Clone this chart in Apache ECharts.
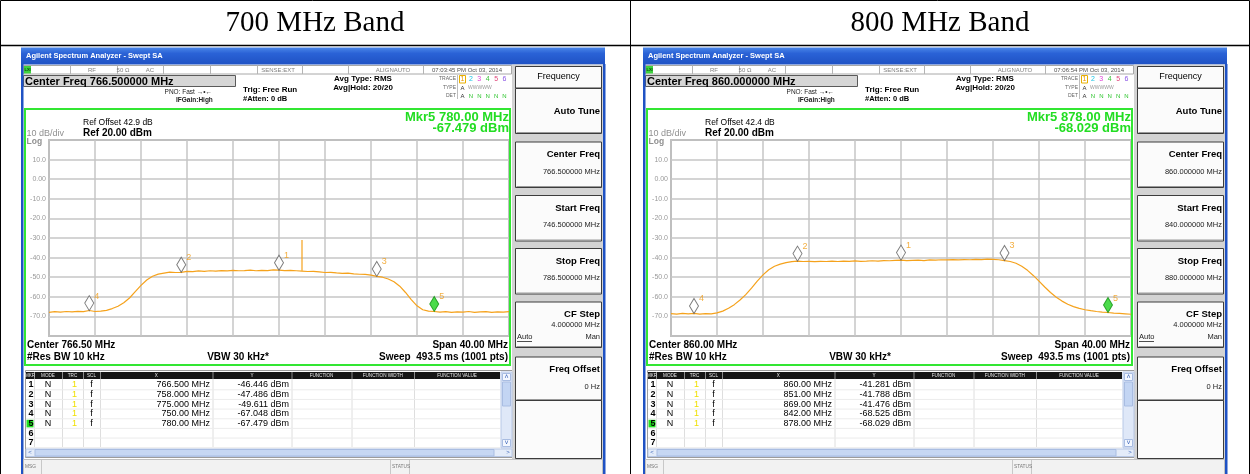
<!DOCTYPE html>
<html>
<head>
<meta charset="utf-8">
<script src="https://cdn.jsdelivr.net/npm/echarts@6/dist/echarts.min.js"></script>
<style>
  html, body { margin: 0; padding: 0; background: #ffffff; }
  #chart { width: 1250px; height: 474px; }
</style>
</head>
<body>
<div id="chart"></div>
<script>
// ---- Measurement data ----------------------------------------------------
const BAND_TITLES = ['700 MHz Band', '800 MHz Band'];
const CENTER_MHZ = [766.5, 860.0];
const START_MHZ = [746.5, 840.0];
const STOP_MHZ = [786.5, 880.0];
const SPAN_MHZ = 40;
const REF_OFFSET_DB = [42.9, 42.4];
const TIMESTAMPS = ['07:03:45 PM Oct 03, 2014', '07:06:54 PM Oct 03, 2014'];

// Trace 1 (RMS average), one reading every 0.5 MHz across the span
const TRACE_STEP_MHZ = 0.5;
const TRACE_700_DBM = [
  -67.9, -67.6, -67.8, -67.5, -67.7, -67.4, -67.6, -67.0, -67.5, -67.3,
  -66.9, -66.0, -64.8, -63.0, -60.6, -57.4, -54.2, -51.4, -49.5, -48.4,
  -47.9, -47.4, -47.6, -47.5, -47.0, -47.2, -46.8, -47.0, -46.7, -46.9,
  -46.6, -46.8, -46.5, -46.7, -46.6, -46.4, -46.7, -46.5, -46.6, -46.3,
  -46.4, -46.6, -46.5, -46.7, -46.9, -47.1, -47.0, -47.3, -47.6, -47.5,
  -47.8, -48.0, -47.9, -48.3, -48.5, -48.6, -48.9, -49.6, -50.0, -50.9,
  -52.3, -54.6, -57.8, -61.4, -64.6, -66.6, -67.3, -67.5, -67.8, -67.6,
  -67.9, -67.7, -67.8, -67.5, -67.9, -67.7, -67.6, -67.9, -67.7, -67.8,
  -67.6
];
const TRACE_800_DBM = [
  -68.6, -68.8, -68.5, -68.7, -68.5, -68.8, -68.6, -68.7, -68.2, -67.3,
  -65.8, -64.0, -61.6, -58.9, -55.6, -52.0, -48.8, -46.2, -44.4, -43.3,
  -42.6, -42.1, -41.8, -42.0, -41.9, -42.1, -41.9, -42.0, -41.8, -42.0,
  -41.8, -41.9, -41.7, -41.9, -41.8, -41.6, -41.8, -41.5, -41.6, -41.4,
  -41.3, -41.5, -41.4, -41.3, -41.5, -41.2, -41.3, -41.1, -41.2, -41.0,
  -41.2, -41.0, -41.1, -40.9, -41.0, -40.8, -40.9, -41.1, -41.5, -42.0,
  -42.9, -44.4, -46.5, -49.1, -52.0, -55.0, -57.8, -60.2, -62.2, -63.8,
  -65.0, -65.9, -66.6, -67.1, -67.5, -67.8, -68.0, -68.3, -68.5, -68.7,
  -68.9
];
// Narrow spur seen in the 700 MHz sweep: [MHz, peak dBm, floor dBm]
const SPUR_700 = [768.5, -31.0, -46.7];

// Markers 1..5
const MKR_FREQ_700 = [766.5, 758.0, 775.0, 750.0, 780.0];
const MKR_DBM_700 = [-46.446, -47.486, -49.611, -67.048, -67.479];
const MKR_XTEXT_700 = ['766.500 MHz', '758.000 MHz', '775.000 MHz', '750.00 MHz', '780.00 MHz'];
const MKR_FREQ_800 = [860.0, 851.0, 869.0, 842.0, 878.0];
const MKR_DBM_800 = [-41.281, -41.788, -41.476, -68.525, -68.029];
const MKR_XTEXT_800 = ['860.00 MHz', '851.00 MHz', '869.00 MHz', '842.00 MHz', '878.00 MHz'];

// Amplitude graticule, top (Ref 20 dBm) to bottom
const Y_LABELS = ['', '10.0', '0.00', '-10.0', '-20.0', '-30.0', '-40.0', '-50.0', '-60.0', '-70.0', ''];

// ---- Layout --------------------------------------------------------------
const SANS = '"Liberation Sans", Arial, sans-serif';
const SERIF = '"Liberation Serif", "Times New Roman", serif';
const TRACE_COLOR = '#f5a21c';
const SCREEN_DX = [0, 622];
const GRID_BOX = { left: 49, top: 140, width: 460, height: 196 };

function T(x, y, text, size, o) {
  o = o || {};
  return {
    type: 'text', z: 60, silent: true,
    style: {
      x: x, y: y, text: text, fontSize: size, fontFamily: o.family || SANS,
      fontWeight: o.bold ? 'bold' : 'normal', fill: o.color || '#000',
      align: o.align || 'left', verticalAlign: 'middle'
    }
  };
}
function R(x, y, w, h, fill, stroke, lw, z) {
  return {
    type: 'rect', z: z == null ? 5 : z, silent: true,
    shape: { x: x, y: y, width: w, height: h },
    style: { fill: fill || 'none', stroke: stroke || 'none', lineWidth: lw || 1 }
  };
}
function L(x1, y1, x2, y2, stroke, lw, z) {
  return {
    type: 'line', z: z == null ? 6 : z, silent: true,
    shape: { x1: x1, y1: y1, x2: x2, y2: y2 },
    style: { stroke: stroke, lineWidth: lw || 1 }
  };
}

function softKey(dx, y, h, label, value, extra) {
  const out = [
    R(dx + 515.5, y + 0.5, 86, h, '#fbfbfb', '#3c3c3c', 1, 8),
    L(dx + 516.5, y + h - 0.5, dx + 601, y + h - 0.5, '#9a9a9a', 1, 9)
  ];
  if (label && value == null && !extra) {
    out.push(T(dx + 600, y + h / 2 + 0.5, label, 9.5, { bold: true, align: 'right' }));
  } else if (label) {
    out.push(T(dx + 600, y + 13, label, 9.5, { bold: true, align: 'right' }));
    if (value != null) out.push(T(dx + 600, y + 30, value, 7.5, { align: 'right', color: '#222' }));
  }
  return out;
}

function screen(i) {
  const dx = SCREEN_DX[i];
  const mkrFreq = i === 0 ? MKR_FREQ_700 : MKR_FREQ_800;
  const mkrDbm = i === 0 ? MKR_DBM_700 : MKR_DBM_800;
  const mkrX = i === 0 ? MKR_XTEXT_700 : MKR_XTEXT_800;
  const g = [];

  // window frame and title bar
  g.push({
    type: 'rect', z: 5, silent: true,
    shape: { x: dx + 21, y: 47.5, width: 584, height: 17 },
    style: {
      fill: new echarts.graphic.LinearGradient(0, 0, 0, 1, [
        { offset: 0, color: '#4a86e8' }, { offset: 0.35, color: '#2a62d6' }, { offset: 1, color: '#1f52c4' }
      ])
    }
  });
  g.push(T(dx + 26, 56, 'Agilent Spectrum Analyzer - Swept SA', 7.5, { bold: true, color: '#ffffff' }));
  g.push(R(dx + 21, 64, 2.5, 412, '#1f52c4', null, 1, 7));
  g.push(R(dx + 603, 64, 2.5, 412, '#1f52c4', null, 1, 7));

  // status strip
  g.push(R(dx + 23.5, 65.5, 488, 8.5, '#ffffff', '#a8a8a8', 1, 6));
  g.push(R(dx + 24, 66, 7, 7.5, '#3fd23f', null, 1, 7));
  g.push(T(dx + 24.5, 70, 'LXI', 4, { color: '#0a4a0a', bold: true }));
  [70, 117, 163, 210, 257, 302, 348, 423].forEach(function (x) {
    g.push(L(dx + x + 0.5, 65.5, dx + x + 0.5, 74, '#b4b4b4', 1, 7));
  });
  g.push(T(dx + 92, 70, 'RF', 6, { color: '#808080', align: 'center' }));
  g.push(T(dx + 123, 70, '50 \u03A9', 6, { color: '#808080', align: 'center' }));
  g.push(T(dx + 150, 70, 'AC', 6, { color: '#808080', align: 'center' }));
  g.push(T(dx + 278, 70, 'SENSE:EXT', 6, { color: '#808080', align: 'center' }));
  g.push(T(dx + 393, 70, 'ALIGNAUTO', 6, { color: '#808080', align: 'center' }));
  g.push(T(dx + 467, 70, TIMESTAMPS[i], 6, { color: '#505050', align: 'center' }));

  // centre frequency entry box
  g.push(R(dx + 23.5, 75.5, 212, 11, '#d6d6d6', '#5a5a5a', 1, 6));
  g.push(T(dx + 25, 81.5, 'Center Freq ' + CENTER_MHZ[i].toFixed(6) + ' MHz', 11, { bold: true }));

  // acquisition settings
  g.push(T(dx + 212, 92, 'PNO: Fast \u2192\u2022\u2190', 6.5, { align: 'right', color: '#222' }));
  g.push(T(dx + 176, 100, 'IFGain:High', 6.5, { bold: true, color: '#222' }));
  g.push(T(dx + 243, 89.5, 'Trig: Free Run', 8, { bold: true }));
  g.push(T(dx + 243, 98.5, '#Atten: 0 dB', 7.5, { bold: true }));
  g.push(T(dx + 363, 79, 'Avg Type: RMS', 8, { bold: true, align: 'center' }));
  g.push(T(dx + 363, 88, 'Avg|Hold: 20/20', 8, { bold: true, align: 'center' }));
  g.push(T(dx + 456, 79, 'TRACE', 5, { align: 'right', color: '#666' }));
  g.push(T(dx + 456, 87.5, 'TYPE', 5, { align: 'right', color: '#666' }));
  g.push(T(dx + 456, 96, 'DET', 5, { align: 'right', color: '#666' }));
  g.push(L(dx + 457.5, 75, dx + 457.5, 99, '#bdbdbd', 1, 7));
  g.push(R(dx + 459.5, 75.5, 6, 7.5, 'none', '#e8b000', 1, 7));
  const trc = ['#e89a00', '#1cc6e6', '#e040d8', '#3cc43c', '#e0457a', '#8a55e6'];
  trc.forEach(function (c, k) { g.push(T(dx + 462.5 + k * 8.4, 79.5, String(k + 1), 7, { color: c, align: 'center' })); });
  g.push(T(dx + 462.5, 88, 'A', 6, { color: '#333', align: 'center' }));
  g.push(T(dx + 468, 88, 'WWWWW', 5, { color: '#9a9a9a' }));
  g.push(T(dx + 462.5, 96, 'A', 6, { color: '#333', align: 'center' }));
  for (let k = 1; k < 6; k++) g.push(T(dx + 462.5 + k * 8.4, 96, 'N', 6, { color: '#2cc42c', align: 'center' }));

  // display frame
  g.push(R(dx + 25, 109, 485, 256, 'none', '#33e633', 2, 20));
  g.push(T(dx + 509, 117, 'Mkr5 ' + mkrFreq[4].toFixed(2) + ' MHz', 13, { bold: true, color: '#22dd22', align: 'right' }));
  g.push(T(dx + 509, 128, mkrDbm[4].toFixed(3) + ' dBm', 13, { bold: true, color: '#22dd22', align: 'right' }));
  g.push(T(dx + 83, 123, 'Ref Offset ' + REF_OFFSET_DB[i].toFixed(1) + ' dB', 8.5, {}));
  g.push(T(dx + 83, 133.5, 'Ref 20.00 dBm', 10, { bold: true }));
  g.push(T(dx + 26.5, 134, '10 dB/div', 9, { color: '#909090' }));
  g.push(T(dx + 26.5, 142, 'Log', 8.5, { color: '#909090', bold: true }));

  // sweep settings under the graticule
  g.push(T(dx + 27, 345.5, 'Center ' + CENTER_MHZ[i].toFixed(2) + ' MHz', 10, { bold: true }));
  g.push(T(dx + 508, 345.5, 'Span ' + SPAN_MHZ.toFixed(2) + ' MHz', 10, { bold: true, align: 'right' }));
  g.push(T(dx + 27, 357, '#Res BW 10 kHz', 10, { bold: true }));
  g.push(T(dx + 238, 357, 'VBW 30 kHz*', 10, { bold: true, align: 'center' }));
  g.push(T(dx + 508, 357, 'Sweep  493.5 ms (1001 pts)', 10, { bold: true, align: 'right' }));

  // marker table
  g.push(R(dx + 25.5, 370.5, 487, 87, '#ffffff', '#9c9c9c', 1, 6));
  g.push(R(dx + 26, 372, 474, 7, '#161616', null, 1, 7));
  const cols = [26, 34, 62, 83, 100, 212.5, 291.5, 351.5, 414, 500];
  const heads = ['MKR', 'MODE', 'TRC', 'SCL', 'X', 'Y', 'FUNCTION', 'FUNCTION WIDTH', 'FUNCTION VALUE'];
  for (let c = 1; c < cols.length - 1; c++) g.push(L(dx + cols[c] + 0.5, 379, dx + cols[c] + 0.5, 447, '#dedede', 1, 7));
  for (let c = 1; c < cols.length - 1; c++) g.push(L(dx + cols[c] + 0.5, 372, dx + cols[c] + 0.5, 379, '#8a8a8a', 1, 8));
  heads.forEach(function (h, c) {
    g.push(T(dx + (cols[c] + cols[c + 1]) / 2, 375.7, h, 4.6, { color: '#e6e6e6', align: 'center' }));
  });
  for (let r = 0; r < 7; r++) {
    const y = 385 + r * 9.65;
    g.push(L(dx + 26, y + 4.8, dx + 500, y + 4.8, '#ececec', 1, 7));
    if (r === 4) g.push(R(dx + 26.5, y - 3.8, 7, 7.6, '#22e022', null, 1, 8));
    g.push(T(dx + 31, y, String(r + 1), 9, { bold: true, align: 'center' }));
    if (r < 5) {
      g.push(T(dx + 48, y, 'N', 9, { align: 'center' }));
      g.push(T(dx + 74.5, y, '1', 9, { align: 'center', color: '#f0e000' }));
      g.push(T(dx + 91.5, y, 'f', 9, { align: 'center' }));
      g.push(T(dx + 210, y, mkrX[r], 9, { align: 'right' }));
      g.push(T(dx + 289, y, mkrDbm[r].toFixed(3) + ' dBm', 9, { align: 'right' }));
    }
  }
  // scroll bars
  g.push(R(dx + 501, 372, 11, 76, '#dfe8f8', '#b8c8e6', 1, 7));
  g.push(R(dx + 502.5, 373.5, 8, 7, '#f4f8ff', '#a9bde2', 1, 8));
  g.push(T(dx + 506.5, 377, '\u02C4', 7, { align: 'center', color: '#3a64b8' }));
  g.push(R(dx + 502.5, 382, 8, 24, '#c3d5f3', '#a9bde2', 1, 8));
  g.push(R(dx + 502.5, 439.5, 8, 7, '#f4f8ff', '#a9bde2', 1, 8));
  g.push(T(dx + 506.5, 443, '\u02C5', 7, { align: 'center', color: '#3a64b8' }));
  g.push(R(dx + 26, 449, 486, 7.5, '#e4ecf9', '#b8c8e6', 1, 7));
  g.push(R(dx + 35, 449.5, 459, 6.5, '#c6d7f3', '#a9bde2', 1, 8));
  g.push(T(dx + 30, 452.8, '<', 6, { align: 'center', color: '#3a64b8' }));
  g.push(T(dx + 508, 452.8, '>', 6, { align: 'center', color: '#3a64b8' }));

  // soft key menu
  g.push(R(dx + 512, 64.5, 91, 395, '#d3d3d3', null, 1, 6));
  g.push(R(dx + 515.5, 66.5, 86, 21.5, '#fbfbfb', '#3c3c3c', 1, 8));
  g.push(T(dx + 558.5, 77, 'Frequency', 9, { align: 'center' }));
  g.push.apply(g, softKey(dx, 88, 45, 'Auto Tune'));
  g.push.apply(g, softKey(dx, 141.5, 45.5, 'Center Freq', CENTER_MHZ[i].toFixed(6) + ' MHz'));
  g.push.apply(g, softKey(dx, 195, 45.5, 'Start Freq', START_MHZ[i].toFixed(6) + ' MHz'));
  g.push.apply(g, softKey(dx, 248, 45.5, 'Stop Freq', STOP_MHZ[i].toFixed(6) + ' MHz'));
  g.push.apply(g, softKey(dx, 301.5, 45.5, 'CF Step', null, true));
  g.push(T(dx + 600, 324.5, '4.000000 MHz', 7.5, { align: 'right', color: '#222' }));
  g.push(T(dx + 517, 337, 'Auto', 7.5, { color: '#222' }));
  g.push(L(dx + 517, 341.5, dx + 532, 341.5, '#222', 0.8, 9));
  g.push(T(dx + 600, 337, 'Man', 7.5, { align: 'right', color: '#222' }));
  g.push.apply(g, softKey(dx, 356.5, 43.5, 'Freq Offset', '0 Hz'));
  g.push(R(dx + 515.5, 400.5, 86, 58, '#fbfbfb', '#3c3c3c', 1, 8));

  // message / status line
  g.push(R(dx + 23.5, 459.5, 579, 16, '#f2f2f2', '#c0c0c0', 1, 9));
  g.push(L(dx + 41.5, 460, dx + 41.5, 476, '#c8c8c8', 1, 10));
  g.push(L(dx + 390.5, 460, dx + 390.5, 476, '#c8c8c8', 1, 10));
  g.push(L(dx + 409.5, 460, dx + 409.5, 476, '#c8c8c8', 1, 10));
  g.push(T(dx + 25, 467, 'MSG', 4.8, { color: '#777' }));
  g.push(T(dx + 392, 467, 'STATUS', 4.8, { color: '#777' }));
  return g;
}

// ---- Document table framing the two screens -----------------------------
const tableGraphics = [
  R(0.5, 0.5, 1249, 490, 'none', '#000', 1, 70),
  L(0, 45.5, 1250, 45.5, '#000', 1.5, 70),
  L(630.5, 0, 630.5, 474, '#000', 1, 70),
  T(315, 23, BAND_TITLES[0], 29, { family: SERIF, align: 'center' }),
  T(940, 23, BAND_TITLES[1], 29, { family: SERIF, align: 'center' })
];

// ---- Chart option --------------------------------------------------------
const traces = [TRACE_700_DBM, TRACE_800_DBM];
const mkrs = [[MKR_FREQ_700, MKR_DBM_700], [MKR_FREQ_800, MKR_DBM_800]];

const grids = [], xAxes = [], yAxes = [], series = [];
[0, 1].forEach(function (i) {
  grids.push({
    left: GRID_BOX.left + SCREEN_DX[i], top: GRID_BOX.top,
    width: GRID_BOX.width, height: GRID_BOX.height,
    show: true, borderColor: '#8e8e8e', borderWidth: 1.5, backgroundColor: 'transparent'
  });
  // frequency offset from the start of the sweep, one division = span/10
  xAxes.push({
    gridIndex: i, type: 'value', min: 0, max: SPAN_MHZ, interval: SPAN_MHZ / 10,
    axisLine: { show: false }, axisTick: { show: false }, axisLabel: { show: false },
    splitLine: { show: true, lineStyle: { color: '#c6c6c6', width: 1.5 } }
  });
  yAxes.push({
    gridIndex: i, type: 'value', min: -80, max: 20, interval: 10,
    axisLine: { show: false }, axisTick: { show: false },
    axisLabel: {
      show: true, margin: 3, fontSize: 7, color: '#9a9a9a', fontFamily: SANS,
      formatter: function (v) { return Y_LABELS[Math.round((20 - v) / 10)] || ''; }
    },
    splitLine: { show: true, lineStyle: { color: '#c6c6c6', width: 1.5 } }
  });
  series.push({
    type: 'line', xAxisIndex: i, yAxisIndex: i, showSymbol: false, silent: true,
    animation: false, z: 3,
    lineStyle: { color: TRACE_COLOR, width: 1.2 },
    data: traces[i].map(function (v, k) { return [k * TRACE_STEP_MHZ, v]; })
  });
  series.push({
    type: 'scatter', xAxisIndex: i, yAxisIndex: i, silent: true, animation: false, z: 4,
    symbol: 'diamond', symbolSize: [9, 15], symbolOffset: [0, -7.5],
    data: mkrs[i][0].map(function (f, k) {
      const active = k === 4;
      return {
        value: [f - START_MHZ[i], mkrs[i][1][k]],
        itemStyle: active
          ? { color: '#1ed21e', borderColor: '#0f8f0f', borderWidth: 1 }
          : { color: '#ffffff', borderColor: '#5a5a5a', borderWidth: 1 },
        label: {
          show: true, position: 'right', distance: 0, offset: [0, -7],
          formatter: String(k + 1), color: '#f09a10', fontSize: 9, fontFamily: SANS
        }
      };
    })
  });
});
series.push({
  type: 'line', xAxisIndex: 0, yAxisIndex: 0, showSymbol: false, silent: true,
  animation: false, z: 3, lineStyle: { color: TRACE_COLOR, width: 1.2 },
  data: [[SPUR_700[0] - START_MHZ[0], SPUR_700[2]], [SPUR_700[0] - START_MHZ[0], SPUR_700[1]]]
});

const chart = echarts.init(document.getElementById('chart'), null, { renderer: 'canvas' });
chart.setOption({
  backgroundColor: '#ffffff',
  animation: false,
  grid: grids, xAxis: xAxes, yAxis: yAxes, series: series,
  graphic: { elements: tableGraphics.concat(screen(0), screen(1)) }
});
</script>
</body>
</html>
